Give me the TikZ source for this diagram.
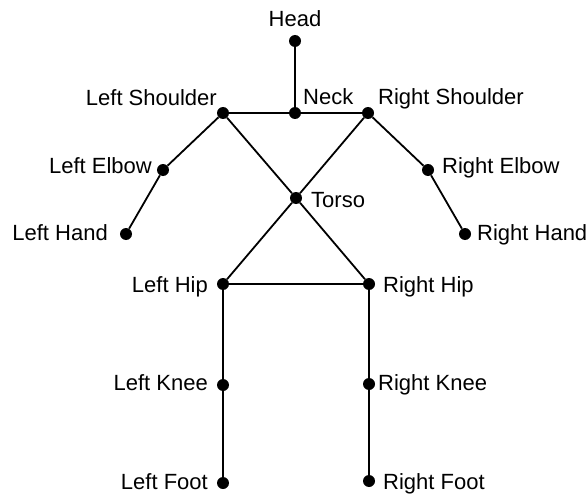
\documentclass[tikz,border=0pt]{standalone}
\usepackage{fontspec}
\setmainfont{Liberation Sans}
\begin{document}
\begin{tikzpicture}[x=1pt,y=-1pt,
  joint/.style={circle,fill=black,inner sep=0pt,minimum size=12pt},
  bone/.style={line width=1.8pt},
  lbl/.style={inner sep=0pt,font=\fontsize{22}{26}\selectfont}]
\useasboundingbox (0,0) rectangle (587,495);
% joints
\node[joint] (head) at (295,41) {};
\node[joint] (neck) at (295,113) {};
\node[joint] (ls) at (223,113) {};
\node[joint] (rs) at (368,113) {};
\node[joint] (le) at (163,170) {};
\node[joint] (re) at (428,170) {};
\node[joint] (lh) at (126,234) {};
\node[joint] (rh) at (465,234) {};
\node[joint] (torso) at (296,198) {};
\node[joint] (lhip) at (223,284) {};
\node[joint] (rhip) at (369,284) {};
\node[joint] (lk) at (223,385) {};
\node[joint] (rk) at (369,384) {};
\node[joint] (lf) at (223,483) {};
\node[joint] (rf) at (369,481) {};
% bones
\draw[bone] (head) -- (neck);
\draw[bone] (ls) -- (neck) -- (rs);
\draw[bone] (ls) -- (le) -- (lh);
\draw[bone] (rs) -- (re) -- (rh);
\draw[bone] (ls) -- (torso) -- (rhip);
\draw[bone] (rs) -- (torso) -- (lhip);
\draw[bone] (lhip) -- (rhip);
\draw[bone] (lhip) -- (lk) -- (lf);
\draw[bone] (rhip) -- (rk) -- (rf);
% labels
\node[lbl,anchor=base] (thead) at (295,27) {Head};
\node[lbl,anchor=base west] (tneck) at (303,105) {Neck};
\node[lbl,anchor=base west] (trs) at (378,105) {Right Shoulder};
\node[lbl,anchor=base east] (tls) at (217,106) {Left Shoulder};
\node[lbl,anchor=base east] (tle) at (152,173) {Left Elbow};
\node[lbl,anchor=base west] (tre) at (442,173) {Right Elbow};
\node[lbl,anchor=base east] (tlh) at (108,240) {Left Hand};
\node[lbl,anchor=base west] (trh) at (477,240) {Right Hand};
\node[lbl,anchor=base west] (ttorso) at (311,207) {Torso};
\node[lbl,anchor=base east] (tlhip) at (208,292) {Left Hip};
\node[lbl,anchor=base west] (trhip) at (383,292) {Right Hip};
\node[lbl,anchor=base east] (tlk) at (208,390) {Left Knee};
\node[lbl,anchor=base west] (trk) at (378,390) {Right Knee};
\node[lbl,anchor=base east] (tlf) at (208,489) {Left Foot};
\node[lbl,anchor=base west] (trf) at (383,489) {Right Foot};
\end{tikzpicture}
\end{document}
